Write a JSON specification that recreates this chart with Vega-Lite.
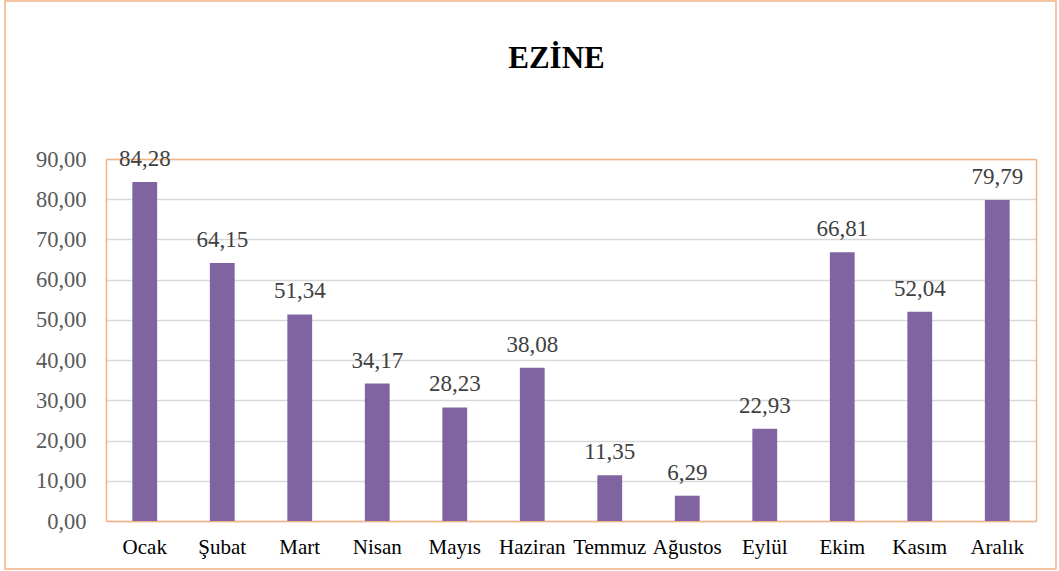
{
  "$schema": "https://vega.github.io/schema/vega-lite/v6.json",
  "autosize": {"type": "none"},
  "width": 1051,
  "height": 568,
  "padding": {"left": 5, "top": 1, "right": 3, "bottom": 2},
  "background": "white",
  "title": {
    "text": "EZİNE",
    "font": "Liberation Serif",
    "fontSize": 31,
    "fontWeight": "bold",
    "color": "#000000",
    "anchor": "middle",
    "frame": "group",
    "baseline": "alphabetic",
    "offset": 0,
    "dx": 26,
    "dy": 98
  },
  "data": {
    "values": [
      {"month": "Ocak", "value": 84.28},
      {"month": "Şubat", "value": 64.15},
      {"month": "Mart", "value": 51.34},
      {"month": "Nisan", "value": 34.17},
      {"month": "Mayıs", "value": 28.23},
      {"month": "Haziran", "value": 38.08},
      {"month": "Temmuz", "value": 11.35},
      {"month": "Ağustos", "value": 6.29},
      {"month": "Eylül", "value": 22.93},
      {"month": "Ekim", "value": 66.81},
      {"month": "Kasım", "value": 52.04},
      {"month": "Aralık", "value": 79.79}
    ]
  },
  "resolve": {"axis": {"x": "independent", "y": "independent"}},
  "layer": [
    {
      "mark": {"type": "bar", "color": "#8064A2"},
      "encoding": {
        "x": {
          "field": "month",
          "type": "nominal",
          "sort": null,
          "scale": {"range": [101, 1031], "paddingInner": 0.68, "paddingOuter": 0.34},
          "axis": {
            "orient": "bottom",
            "offset": -48,
            "title": null,
            "labelAngle": 0,
            "labelFont": "Liberation Serif",
            "labelFontSize": 21,
            "labelColor": "#000000",
            "labelPadding": 15,
            "ticks": false,
            "domainColor": "#F4B183",
            "domainWidth": 1.5,
            "grid": false
          }
        },
        "y": {
          "field": "value",
          "type": "quantitative",
          "scale": {"domain": [0, 90], "range": [520, 158], "nice": false, "zero": true},
          "axis": {
            "orient": "left",
            "offset": -101,
            "title": null,
            "values": [0, 10, 20, 30, 40, 50, 60, 70, 80, 90],
            "format": ".2f",
            "labelFont": "Liberation Serif",
            "labelFontSize": 22.5,
            "labelColor": "#595959",
            "labelPadding": 20,
            "ticks": false,
            "domainColor": "#F4B183",
            "domainWidth": 1.5,
            "grid": true,
            "gridColor": "#D9D9D9",
            "gridWidth": 1.5
          }
        }
      }
    },
    {
      "mark": {
        "type": "text",
        "font": "Liberation Serif",
        "fontSize": 23,
        "color": "#404040",
        "baseline": "alphabetic",
        "dy": -16
      },
      "encoding": {
        "x": {
          "field": "month",
          "type": "nominal",
          "sort": null,
          "axis": {
            "orient": "top",
            "offset": -158,
            "title": null,
            "labels": false,
            "ticks": false,
            "grid": false,
            "domainColor": "#F4B183",
            "domainWidth": 1.5
          }
        },
        "y": {
          "field": "value",
          "type": "quantitative",
          "axis": {
            "orient": "right",
            "offset": -20,
            "title": null,
            "labels": false,
            "ticks": false,
            "grid": false,
            "domainColor": "#F4B183",
            "domainWidth": 1.5
          }
        },
        "text": {"field": "value", "type": "quantitative", "format": ".2f"}
      }
    }
  ],
  "config": {
    "locale": {
      "number": {"decimal": ",", "thousands": ".", "grouping": [3], "currency": ["", ""]}
    },
    "view": {"stroke": "#F4B183", "strokeWidth": 1.5}
  }
}
